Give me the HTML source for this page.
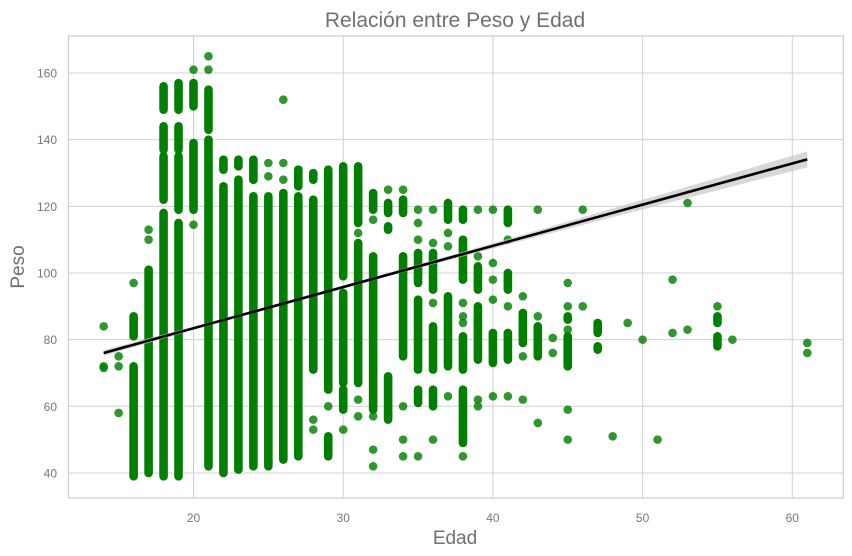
<!DOCTYPE html>
<html><head><meta charset="utf-8">
<style>
html,body{margin:0;padding:0;background:#fff;}
svg{display:block;font-family:"Liberation Sans",Arial,sans-serif;}
</style></head>
<body>
<svg id="chart" width="852" height="556" viewBox="0 0 852 556">
  <rect x="0" y="0" width="852" height="556" fill="#fff"/>
  <g id="grid"></g>
  <g id="marks"></g>
  <g id="reg"></g>
  <rect x="68.5" y="36" width="774.8" height="462" fill="none" stroke="#cccccc" stroke-width="1.2"/>
  <g id="ticks"></g>
  <text x="455" y="27" text-anchor="middle" font-size="21" fill="#707070">Relación entre Peso y Edad</text>
  <text x="455" y="544" text-anchor="middle" font-size="19" fill="#707070">Edad</text>
  <text x="24" y="267" text-anchor="middle" font-size="19" fill="#707070" transform="rotate(-90 24 267)">Peso</text>
</svg>
<script>
// ---- data ----
const xTicks = [20, 30, 40, 50, 60];
const yTicks = [40, 60, 80, 100, 120, 140, 160];
// dense runs of points: [edad, pesoMin, pesoMax]
const segAge = [16,16,17,18,18,18,18,19,19,19,19,20,20,21,21,22,22,23,23,24,24,25,26,27,27,28,28,29,29,29,30,30,30,31,31,32,32,33,33,33,34,34,35,35,35,36,36,36,37,37,38,38,38,38,39,39,40,41,41,41,42,43,45,45,47,47,55,55];
const segLo  = [81,39,40,149,137,122,39,149,137,119,39,150,119,143,42,131,40,132,41,128,42,42,44,126,45,128,71,65,45,125,99,67,59,115,67,119,59,118,113,56,118,75,97,71,61,95,71,60,116,72,116,98,71,49,95,74,73,115,95,74,79,75,86,72,82,77,85,78];
const segHi  = [87,72,101,156,144,135,118,157,144,135,115,157,139,155,140,134,126,134,128,134,123,123,124,131,123,130,122,131,51,130,132,94,65,132,109,124,105,121,114,69,122,105,106,92,65,106,84,65,121,93,119,110,81,65,102,90,82,119,100,82,88,84,87,81,85,78,87,81];
// individual points
const ptAge = [14,14,14,15,15,15,16,17,17,20,20,21,21,24,25,25,26,26,26,27,28,28,29,29,30,30,31,31,31,32,32,32,32,33,34,34,34,34,35,35,35,35,36,36,36,36,37,37,37,38,38,38,38,39,39,39,39,40,40,40,40,40,41,41,41,42,42,42,43,43,43,44,44,45,45,45,45,45,46,46,48,49,50,51,52,52,53,53,55,56,61,61];
const ptW   = [84,71.5,72,75,72,58,97,113,110,161,114.5,165,161,128,133,129,152,133,128,131,53,56,60,127,53,65,112,62,57,116,47,42,57,125,125,50,60,45,119,115,110,45,119,91,50,109,112,108,63,91,87,85,45,119,105,62,60,119,103,98,92,63,110,90,63,93,75,62,119,55,87,80.5,76,97,90,83,59,50,119,90,51,85,80,50,98,82,121,83,90,80,79,76];
// regression line and confidence band half-widths
const regAge = [14, 61];
const regW   = [76, 134.1];
const bandAge  = [14, 20, 26, 34, 44, 52, 61];
const bandHalf = [0.9, 0.5, 0.35, 0.5, 1.0, 1.6, 2.4];

// ---- scales ----
const X0 = 193.5, PX = 14.97;
const Y0 = 73, PY = 3.333;
const xs = a => X0 + (a - 20) * PX;
const ys = w => Y0 + (160 - w) * PY;
const NS = 'http://www.w3.org/2000/svg';
function mk(tag, attrs, parent){ const e = document.createElementNS(NS, tag); for (const k in attrs) e.setAttribute(k, attrs[k]); parent.appendChild(e); return e; }

const grid = document.getElementById('grid');
const ticks = document.getElementById('ticks');
xTicks.forEach(t => {
  const l = mk('line', {x1: xs(t), x2: xs(t), y1: 36, y2: 498, stroke: '#d0d0d0', 'stroke-width': 1}, grid);
  
  
  const tx = mk('text', {x: xs(t), y: 522, 'text-anchor': 'middle', 'font-size': 12, fill: '#777'}, ticks);
  tx.textContent = t;
  
  
});
yTicks.forEach(t => {
  const l = mk('line', {x1: 68.5, x2: 843.3, y1: ys(t), y2: ys(t), stroke: '#d0d0d0', 'stroke-width': 1}, grid);
  
  
  const tx = mk('text', {x: 57, y: ys(t) + 4.5, 'text-anchor': 'end', 'font-size': 12, fill: '#777'}, ticks);
  tx.textContent = t;
  
  
});

const marks = document.getElementById('marks');
segAge.forEach((a, i) => {
  const s = mk('line', {x1: xs(a), x2: xs(a), y1: ys(segLo[i]), y2: ys(segHi[i]), stroke: '#007f00', 'stroke-width': 8.6, 'stroke-linecap': 'round'}, marks);
  
  
});
ptAge.forEach((a, i) => {
  const c = mk('circle', {cx: xs(a), cy: ys(ptW[i]), r: 4.3, fill: '#008000', 'fill-opacity': 0.82}, marks);
  
  
});

const reg = document.getElementById('reg');
const slope = (regW[1] - regW[0]) / (regAge[1] - regAge[0]);
const regAt = a => regW[0] + (a - regAge[0]) * slope;
const upper = bandAge.map((a, i) => `${xs(a)},${ys(regAt(a) + bandHalf[i])}`);
const lower = bandAge.map((a, i) => `${xs(a)},${ys(regAt(a) - bandHalf[i])}`).reverse();
const band = mk('polygon', {points: upper.concat(lower).join(' '), fill: '#c8c8c8', 'fill-opacity': 0.7}, reg);


const rl = mk('line', {x1: xs(regAge[0]), y1: ys(regW[0]), x2: xs(regAge[1]), y2: ys(regW[1]), stroke: '#000', 'stroke-width': 2.6}, reg);


</script>
</body></html>
